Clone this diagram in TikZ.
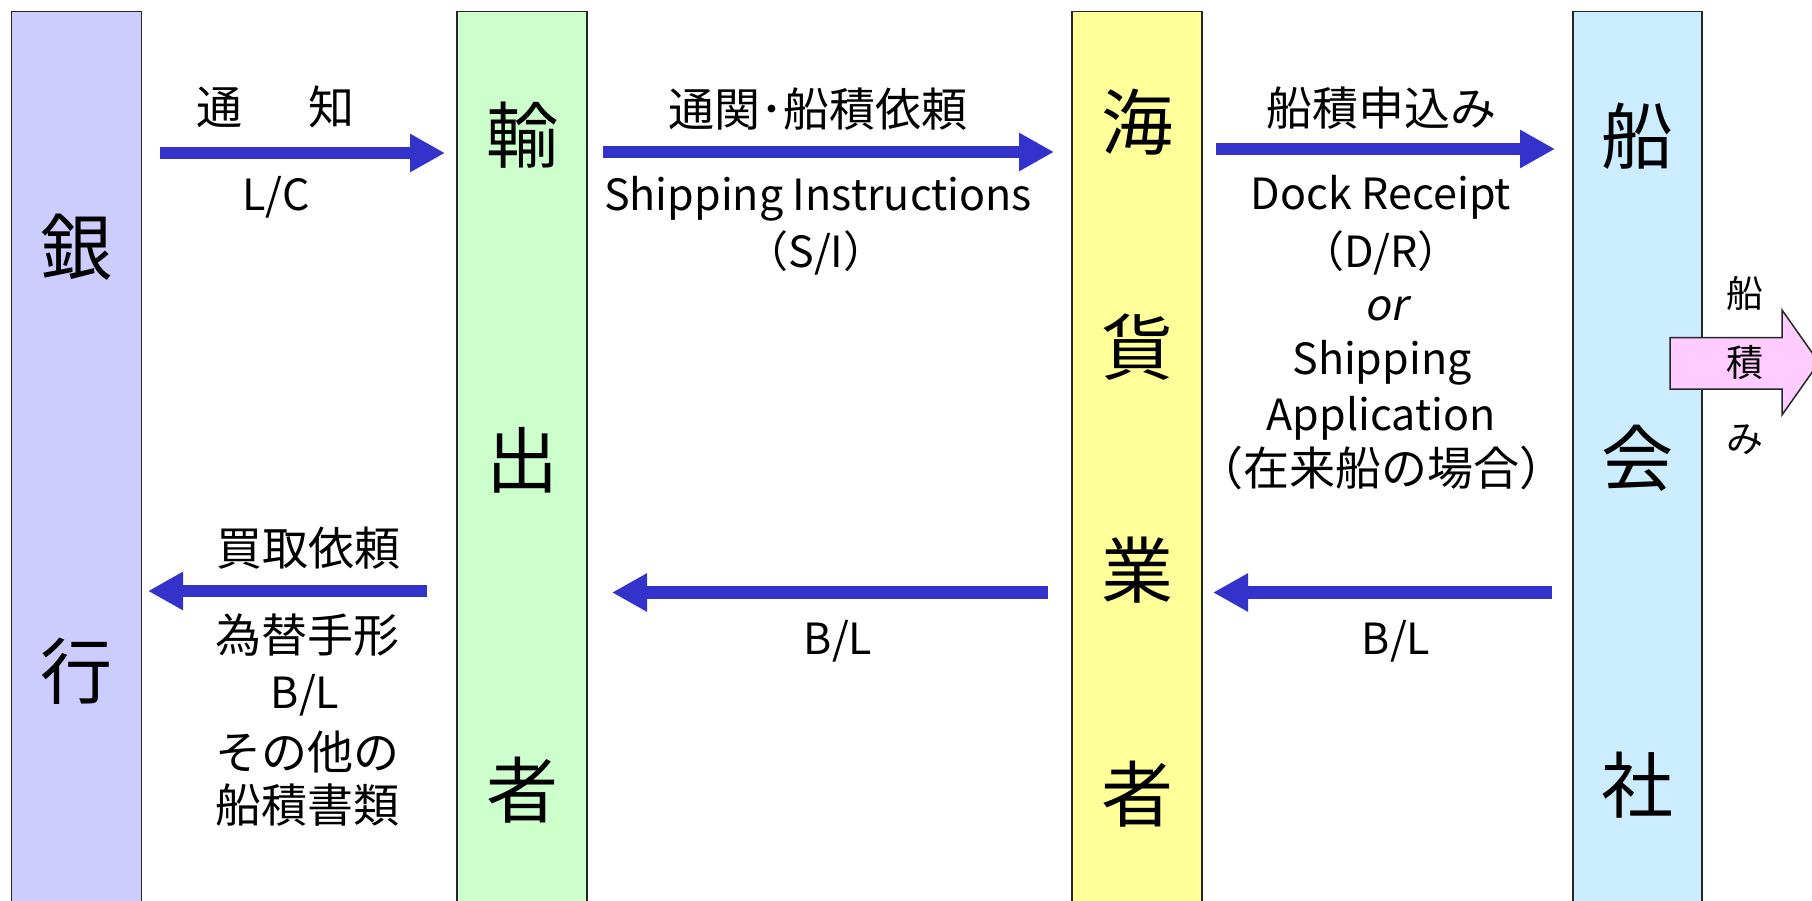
\documentclass[tikz,border=0pt]{standalone}
\usepackage{fontspec}
\setmainfont{Noto Sans CJK JP}
\newfontfamily\itfont[FakeSlant=0.2]{Noto Sans CJK JP}
\usetikzlibrary{arrows.meta}
\definecolor{bankc}{HTML}{CCCCFF}
\definecolor{expc}{HTML}{CCFFCC}
\definecolor{fwdc}{HTML}{FFFF99}
\definecolor{carc}{HTML}{CCECFF}
\definecolor{pinkc}{HTML}{FFCCFF}
\definecolor{bluec}{HTML}{3333CC}
\begin{document}
\begin{tikzpicture}[x=1pt,y=-1pt,
  bar/.style={draw=black!85, line width=1.5pt, inner sep=0pt, minimum width=130pt, minimum height=900pt},
  big/.style={inner sep=0pt, font=\fontsize{72}{80}\selectfont},
  lab/.style={inner sep=0pt, anchor=base, font=\fontsize{46}{55}\selectfont},
  lat/.style={inner sep=0pt, anchor=base, font=\fontsize{43}{55}\selectfont},
  small/.style={inner sep=0pt, font=\fontsize{37}{44}\selectfont},
  blockarrow/.style={draw=bluec, line width=12.5pt, -{Triangle[length=35pt 0 0,width=36pt 0 0]}},
  pinkarrow/.style={draw=black!85, fill=pinkc, line width=1.5pt, line join=miter}
]
\clip (0,0) rectangle (1812,901);
\fill[white] (0,0) rectangle (1812,901);

% columns
\node[bar, fill=bankc] (bank) at (76.5,461.7) {};
\node[bar, fill=expc] (exp) at (522,461.7) {};
\node[bar, fill=fwdc] (fwd) at (1137,461.7) {};
\node[bar, fill=carc, minimum width=129pt] (car) at (1637.5,461.7) {};

% pink shipping arrow
\coordinate (p1) at (1670,337.5);
\coordinate (p2) at (1782,337.5);
\coordinate (p3) at (1782,310);
\coordinate (p4) at (1819,362.5);
\coordinate (p5) at (1782,415);
\coordinate (p6) at (1782,389);
\coordinate (p7) at (1670,389);
\draw[pinkarrow] (p1) -- (p2) -- (p3) -- (p4) -- (p5) -- (p6) -- (p7) -- cycle;
\node[small] (s1) at (1745,293) {船};
\node[small] (s2) at (1745,363) {積};
\node[small] (s3) at (1745,440) {み};

% column labels
\node[big] (b1) at (76.5,247) {銀};
\node[big] (b2) at (76.5,671) {行};
\node[big] (e1) at (522,135) {輸};
\node[big] (e2) at (522,460) {出};
\node[big] (e3) at (522,790) {者};
\node[big] (f1) at (1137,122.5) {海};
\node[big] (f2) at (1137,347.5) {貨};
\node[big] (f3) at (1137,570.5) {業};
\node[big] (f4) at (1137,794.5) {者};
\node[big] (c1) at (1637.5,136) {船};
\node[big] (c2) at (1637.5,458) {会};
\node[big] (c3) at (1637.5,785) {社};

% arrows
\coordinate (a1s) at (160,153);   \coordinate (a1e) at (445,153);
\coordinate (a2s) at (603,152);   \coordinate (a2e) at (1054,152);
\coordinate (a3s) at (1216,149);  \coordinate (a3e) at (1555,149);
\coordinate (a4s) at (1552,592.5); \coordinate (a4e) at (1213,592.5);
\coordinate (a5s) at (1048,592.5); \coordinate (a5e) at (612,592.5);
\coordinate (a6s) at (427,591);   \coordinate (a6e) at (148,591);
\draw[blockarrow] (a1s) -- (a1e);
\draw[blockarrow] (a2s) -- (a2e);
\draw[blockarrow] (a3s) -- (a3e);
\draw[blockarrow] (a4s) -- (a4e);
\draw[blockarrow] (a5s) -- (a5e);
\draw[blockarrow] (a6s) -- (a6e);

% labels bank -> exporter
\node[lab] (t1) at (275.5,125) {通\hspace{67pt}知};
\node[lat] (t2) at (276,211) {L/C};

% exporter -> forwarder
\node[lab] (t3) at (818,127) {通関･船積依頼};
\node[lat] (t4) at (818,211) {Shipping Instructions};
\node[lat] (t5) at (816,268) {（S/I）};

% forwarder -> carrier
\node[lab] (t6) at (1381,125.5) {船積申込み};
\node[lat] (t7) at (1381,210) {Dock Receipt};
\node[lat] (t8) at (1381,268) {（D/R）};
\node[lat, font=\fontsize{43}{55}\itfont] (t9) at (1386,320) {or};
\node[lat] (t10) at (1382,374) {Shipping};
\node[lat] (t11) at (1381,430) {Application};
\node[lab] (t12) at (1381,485) {（在来船の場合）};

% carrier -> forwarder, forwarder -> exporter
\node[lat] (t13) at (1396,654) {B/L};
\node[lat] (t14) at (838,654) {B/L};

% exporter -> bank
\node[lab] (t15) at (308,565) {買取依頼};
\node[lab] (t16) at (307,652) {為替手形};
\node[lat] (t17) at (305,708) {B/L};
\node[lab] (t18) at (307,769) {その他の};
\node[lab] (t19) at (307,822) {船積書類};
\end{tikzpicture}
\end{document}
